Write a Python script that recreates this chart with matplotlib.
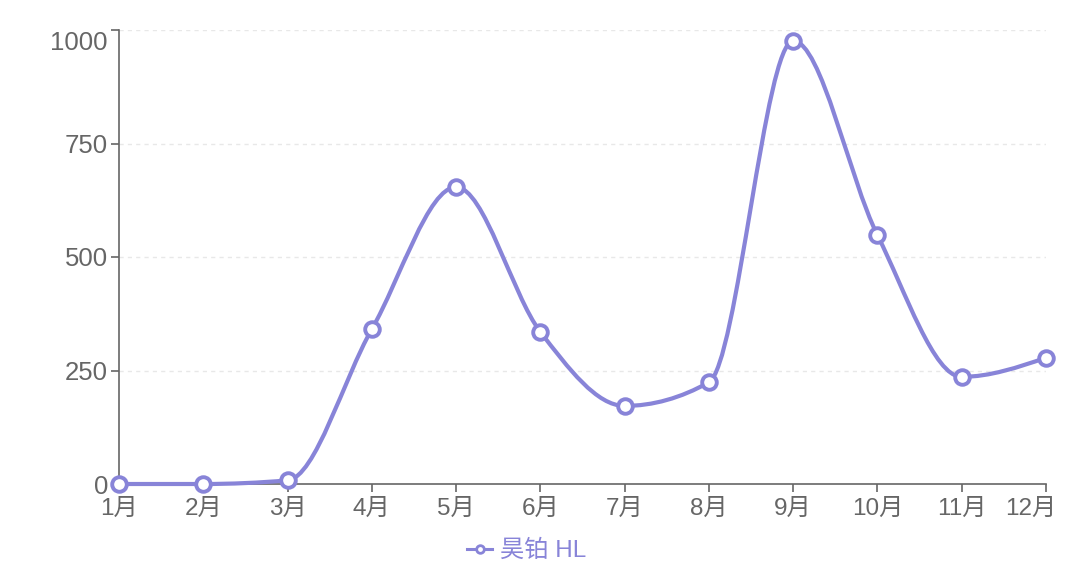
import numpy as np
import matplotlib
matplotlib.use("Agg")
from matplotlib import pyplot as plt
from matplotlib.path import Path
from matplotlib.patches import PathPatch
from matplotlib.lines import Line2D
from matplotlib.transforms import ScaledTranslation

plt.rcParams['font.family'] = ['Liberation Sans', 'Noto Sans CJK SC', 'DejaVu Sans']

months = ['1月', '2月', '3月', '4月', '5月', '6月', '7月', '8月', '9月', '10月', '11月', '12月']
sales = [0, 0, 8, 341, 654, 335, 172, 224, 976, 548, 236, 278]
series_name = '昊铂 HL'
y_ticks = [0, 250, 500, 750, 1000]

LINE = '#8884d8'
AXIS = '#666666'


def monotone_path(xs, ys):
    """d3 curveMonotoneX as cubic bezier path"""
    xs = np.asarray(xs, float)
    ys = np.asarray(ys, float)
    n = len(xs)
    t = np.zeros(n)
    for i in range(1, n - 1):
        h0 = xs[i] - xs[i - 1]
        h1 = xs[i + 1] - xs[i]
        s0 = (ys[i] - ys[i - 1]) / h0
        s1 = (ys[i + 1] - ys[i]) / h1
        p = (s0 * h1 + s1 * h0) / (h0 + h1)
        t[i] = (np.sign(s0) + np.sign(s1)) * min(abs(s0), abs(s1), 0.5 * abs(p))
    h = xs[1] - xs[0]
    t[0] = (3 * (ys[1] - ys[0]) / h - t[1]) / 2
    h = xs[-1] - xs[-2]
    t[-1] = (3 * (ys[-1] - ys[-2]) / h - t[-2]) / 2
    verts = [(xs[0], ys[0])]
    codes = [Path.MOVETO]
    for i in range(n - 1):
        dx = (xs[i + 1] - xs[i]) / 3
        verts += [(xs[i] + dx, ys[i] + dx * t[i]),
                  (xs[i + 1] - dx, ys[i + 1] - dx * t[i + 1]),
                  (xs[i + 1], ys[i + 1])]
        codes += [Path.CURVE4] * 3
    return Path(verts, codes)


fig = plt.figure(figsize=(10.8, 5.81), dpi=100)
ax = fig.add_axes([119 / 1080, 97 / 581, 927 / 1080, 454 / 581])

x = np.arange(len(months))
ax.set_xlim(0, len(months) - 1)
ax.set_ylim(0, 1000)

for v in y_ticks[1:]:
    ax.axhline(v, color='#e8e8e8', lw=1, ls=(0, (3, 3)), zorder=0)

curve = PathPatch(monotone_path(x, sales), facecolor='none', edgecolor=LINE,
                  lw=3.0, capstyle='round', joinstyle='round', zorder=3, clip_on=False)
ax.add_patch(curve)
ax.plot(x, sales, linestyle='none', marker='o', ms=10.5, mfc='white', mec=LINE,
        mew=2.8, zorder=4, clip_on=False)

ax.set_xticks(x)
ax.set_xticklabels(months)
ax.set_yticks(y_ticks)
ax.tick_params(axis='both', colors=AXIS, labelcolor=AXIS, length=6, width=1.2)
ax.tick_params(axis='x', pad=4, labelsize=17.5)
ax.tick_params(axis='y', pad=2, labelsize=18.5)

# recharts nudges the edge labels inside the canvas
lbl = ax.get_yticklabels()[-1]
lbl.set_transform(lbl.get_transform() + ScaledTranslation(0, -0.11, fig.dpi_scale_trans))
lbl = ax.get_xticklabels()[-1]
lbl.set_transform(lbl.get_transform() + ScaledTranslation(-0.15, 0, fig.dpi_scale_trans))

for side in ['top', 'right']:
    ax.spines[side].set_visible(False)
for side in ['left', 'bottom']:
    ax.spines[side].set_color(AXIS)
    ax.spines[side].set_linewidth(1.2)

handle = Line2D([], [], color=LINE, lw=2.2, marker='o', ms=5.5, mfc='white', mec=LINE, mew=2)
leg = fig.legend([handle], [series_name], loc='center', bbox_to_anchor=(527 / 1080, 1 - 551 / 581),
                 frameon=False, fontsize=17.5, handlelength=1.0, handletextpad=0.35)
for txt in leg.get_texts():
    txt.set_color(LINE)

plt.savefig('out.png', dpi=100, facecolor='w')
